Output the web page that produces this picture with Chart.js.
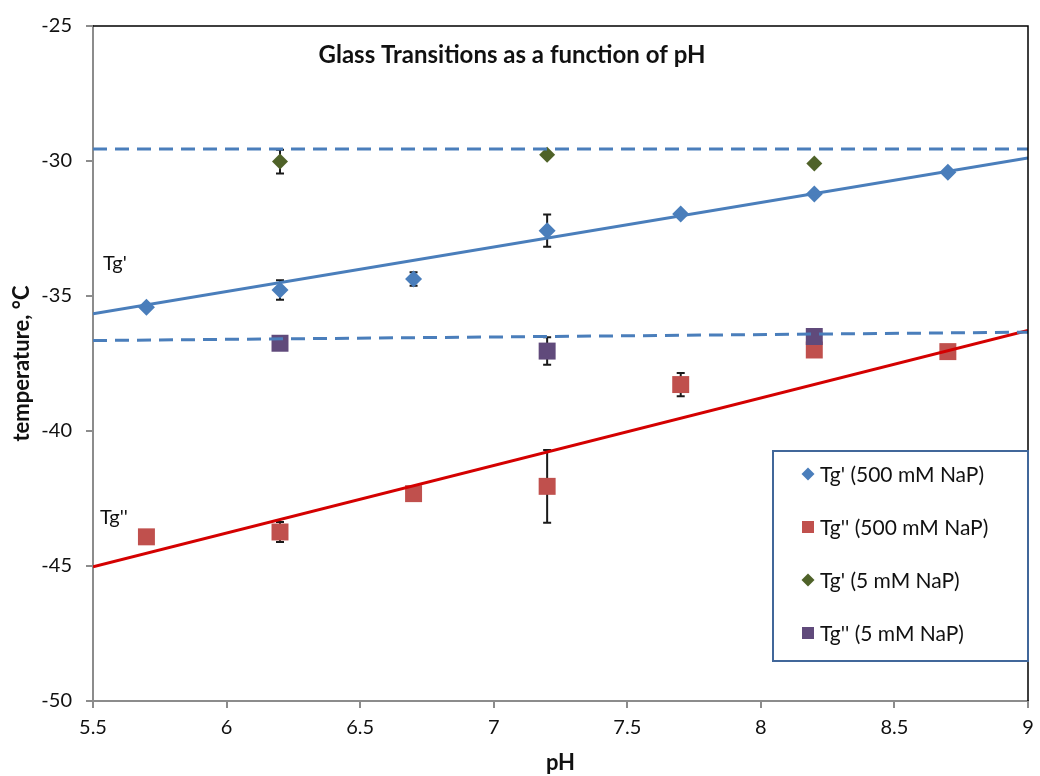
<!DOCTYPE html>
<html>
<head>
<meta charset="utf-8">
<script src="https://cdn.jsdelivr.net/npm/chart.js@4.4.0/dist/chart.umd.min.js"></script>
<style>
  html, body { margin: 0; padding: 0; background: #fff; overflow: hidden; }
  #wrap { position: relative; width: 1040px; height: 776px; }
</style>
</head>
<body>
<div id="wrap"><canvas id="glassChart"></canvas></div>
<script>
// pH of the samples
const phValues = [5.7, 6.2, 6.7, 7.2, 7.7, 8.2, 8.7];
const phValues5mM = [6.2, 7.2, 8.2];

// 500 mM NaP, glass transitions in °C (error = half length of the bar)
const tgPrime500 = [-35.42, -34.78, -34.37, -32.58, -31.96, -31.22, -30.42];
const tgPrime500Err = [null, 0.36, 0.25, 0.6, null, null, null];
const tgDouble500 = [-43.92, -43.74, -42.32, -42.05, -38.28, -37.0, -37.06];
const tgDouble500Err = [null, 0.37, null, 1.35, 0.43, null, null];

// 5 mM NaP
const tgPrime5 = [-30.02, -29.77, -30.09];
const tgPrime5Err = [0.44, null, null];
const tgDouble5 = [-36.75, -37.04, -36.5];
const tgDouble5Err = [null, 0.51, null];

// trend lines, end values at the ends of the pH axis
const fitX = [5.5, 9];
const tgPrime500Fit = [-35.66, -29.89];
const tgDouble500Fit = [-45.03, -36.28];
const tgPrime5Fit = [-29.56, -29.56];
const tgDouble5Fit = [-36.65, -36.34];

// axis ticks
const xTicks = [5.5, 6, 6.5, 7, 7.5, 8, 8.5, 9];
const yTicks = [-50, -45, -40, -35, -30, -25];

const FONT = 'Lato';
const BLUE = '#4a7ebb';
const RED = '#c0504d';
const GREEN = '#4f6228';
const PURPLE = '#604a7b';
const AXIS_GREY = '#8c8c8c';

const toPoints = (xs, ys) => xs.map((x, i) => ({ x: x, y: ys[i] }));

// error bars drawn under the markers
const errorBarPlugin = {
  id: 'errorBars',
  beforeDatasetsDraw(chart) {
    const ctx = chart.ctx;
    const yScale = chart.scales.y;
    chart.data.datasets.forEach((ds, i) => {
      if (!ds.errors) return;
      const meta = chart.getDatasetMeta(i);
      ctx.save();
      ctx.strokeStyle = '#1a1a1a';
      ctx.lineWidth = 2;
      meta.data.forEach((pt, j) => {
        const e = ds.errors[j];
        if (e == null) return;
        const v = ds.data[j].y;
        const top = yScale.getPixelForValue(v + e);
        const bot = yScale.getPixelForValue(v - e);
        ctx.beginPath();
        ctx.moveTo(pt.x, top); ctx.lineTo(pt.x, bot);
        ctx.moveTo(pt.x - 4, top); ctx.lineTo(pt.x + 4, top);
        ctx.moveTo(pt.x - 4, bot); ctx.lineTo(pt.x + 4, bot);
        ctx.stroke();
      });
      ctx.restore();
    });
  }
};

// frame, title, Tg labels and the boxed legend
const decorPlugin = {
  id: 'decor',
  afterDraw(chart) {
    const ctx = chart.ctx;
    const a = chart.chartArea;
    ctx.save();

    // black top and right edges of the plot
    ctx.strokeStyle = '#000';
    ctx.lineWidth = 1.5;
    ctx.beginPath();
    ctx.moveTo(a.left, a.top);
    ctx.lineTo(a.right, a.top);
    ctx.lineTo(a.right, a.bottom);
    ctx.stroke();

    ctx.fillStyle = '#111';
    ctx.textBaseline = 'middle';
    ctx.textAlign = 'center';
    ctx.font = 'bold 24px ' + FONT;
    ctx.fillText('Glass Transitions as a function of pH', 512, 55);

    ctx.textAlign = 'left';
    ctx.font = '20px ' + FONT;
    ctx.fillText("Tg'", 103, 264);
    ctx.fillText("Tg''", 100, 518);

    // legend box
    const boxL = a.right - 255, boxT = 451, boxW = 255, boxH = 210;
    ctx.fillStyle = '#fff';
    ctx.fillRect(boxL, boxT, boxW, boxH);
    ctx.strokeStyle = '#41679a';
    ctx.lineWidth = 2;
    ctx.strokeRect(boxL, boxT, boxW, boxH);

    const rowsY = [474, 527, 580, 633];
    const items = chart.data.datasets.filter(ds => ds.inLegend);
    items.forEach((ds, k) => {
      const y = rowsY[k];
      const mx = boxL + 35;
      ctx.fillStyle = ds.backgroundColor;
      ctx.beginPath();
      if (ds.pointStyle === 'rectRot') {
        ctx.moveTo(mx - 6.5, y); ctx.lineTo(mx, y - 6.5);
        ctx.lineTo(mx + 6.5, y); ctx.lineTo(mx, y + 6.5);
        ctx.closePath();
      } else {
        ctx.rect(mx - 6, y - 6, 12, 12);
      }
      ctx.fill();
      ctx.fillStyle = '#111';
      ctx.font = '21px ' + FONT;
      ctx.fillText(ds.label, boxL + 47, y + 1);
    });
    ctx.restore();
  }
};

const lineSet = (label, ys, color, dashed, order) => ({
  label: label,
  data: toPoints(fitX, ys),
  showLine: true,
  borderColor: color,
  backgroundColor: color,
  borderWidth: 3,
  borderDash: dashed ? [14, 8] : [],
  pointRadius: 0,
  order: order
});

const pointSet = (label, xs, ys, errs, color, style, radius, order) => ({
  label: label,
  data: toPoints(xs, ys),
  errors: errs,
  inLegend: true,
  backgroundColor: color,
  borderColor: color,
  borderWidth: 0,
  pointStyle: style,
  pointRadius: radius,
  order: order
});

const ctx = document.getElementById('glassChart').getContext('2d');
new Chart(ctx, {
  type: 'scatter',
  data: {
    datasets: [
      pointSet("Tg' (500 mM NaP)", phValues, tgPrime500, tgPrime500Err, BLUE, 'rectRot', 8.5, 5),
      pointSet("Tg'' (500 mM NaP)", phValues, tgDouble500, tgDouble500Err, RED, 'rect', 12, 4),
      pointSet("Tg' (5 mM NaP)", phValues5mM, tgPrime5, tgPrime5Err, GREEN, 'rectRot', 8, 3),
      pointSet("Tg'' (5 mM NaP)", phValues5mM, tgDouble5, tgDouble5Err, PURPLE, 'rect', 12, 2),
      lineSet('fit Tg 500', tgPrime500Fit, BLUE, false, 1),
      lineSet('fit Tg2 500', tgDouble500Fit, '#d40000', false, 1),
      lineSet('fit Tg 5', tgPrime5Fit, BLUE, true, 0),
      lineSet('fit Tg2 5', tgDouble5Fit, BLUE, true, 0)
    ]
  },
  options: {
    responsive: true,
    maintainAspectRatio: false,
    animation: false,
    layout: { padding: { top: 25, right: 8, left: 0, bottom: 0 } },
    plugins: {
      legend: { display: false },
      tooltip: { enabled: false },
      title: { display: false }
    },
    scales: {
      x: {
        type: 'linear',
        min: 5.5,
        max: 9,
        afterBuildTicks: (scale) => { scale.ticks = xTicks.map(v => ({ value: v })); },
        afterFit: (scale) => {
          scale.height = 75;
          scale.paddingLeft = 0;
          scale.paddingRight = 0;
        },
        ticks: {
          color: '#111',
          font: { family: FONT, size: 20 },
          padding: 8,
          maxRotation: 0,
          callback: (v) => String(v)
        },
        grid: { display: true, drawOnChartArea: false, drawTicks: true, tickLength: 7, color: AXIS_GREY, lineWidth: 2 },
        border: { display: true, color: AXIS_GREY, width: 2 },
        title: {
          display: true,
          text: 'pH',
          color: '#111',
          font: { family: FONT, size: 22, weight: 'bold' },
          padding: { top: 0, bottom: 0 }
        }
      },
      y: {
        type: 'linear',
        min: -50,
        max: -25,
        afterBuildTicks: (scale) => { scale.ticks = yTicks.map(v => ({ value: v })); },
        afterFit: (scale) => { scale.width = 93; },
        ticks: {
          color: '#111',
          font: { family: FONT, size: 20 },
          padding: 14,
          callback: (v) => String(v)
        },
        grid: { display: true, drawOnChartArea: false, drawTicks: true, tickLength: 7, color: AXIS_GREY, lineWidth: 2 },
        border: { display: true, color: AXIS_GREY, width: 2 },
        title: {
          display: true,
          text: 'temperature, °C',
          color: '#111',
          font: { family: FONT, size: 22, weight: 'bold' },
          padding: { top: 9, bottom: 0 }
        }
      }
    }
  },
  plugins: [errorBarPlugin, decorPlugin]
});
</script>
</body>
</html>
